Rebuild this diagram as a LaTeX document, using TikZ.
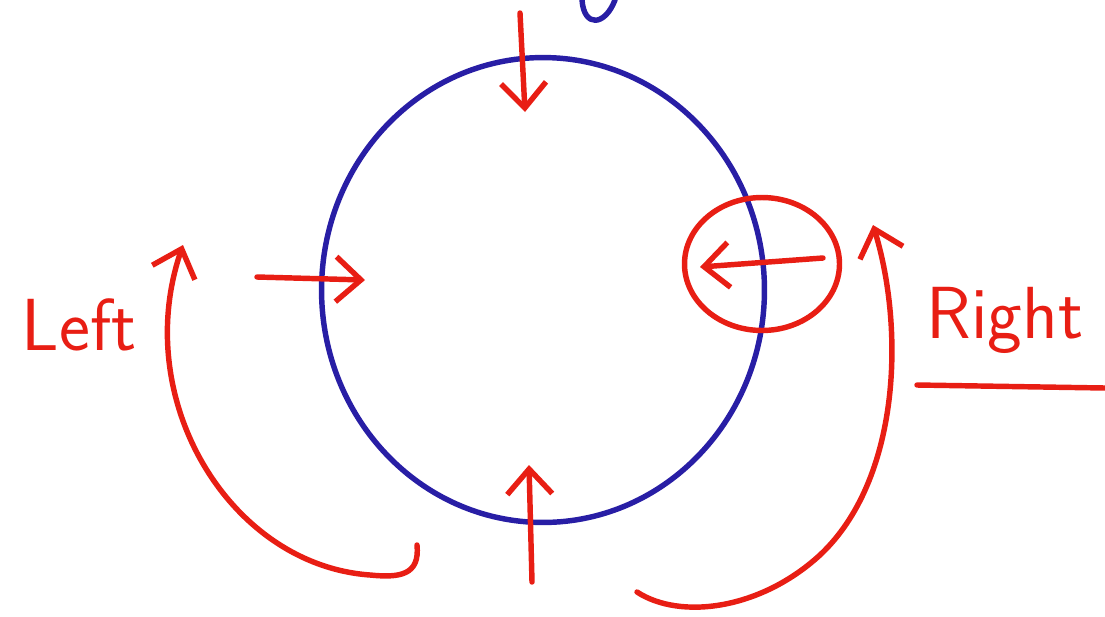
\documentclass[tikz,border=0pt]{standalone}
\usepackage{fontspec}
\usetikzlibrary{arrows.meta, shapes.geometric}
\definecolor{penred}{RGB}{232,30,20}
\definecolor{penblue}{RGB}{40,30,165}

\begin{document}
\begin{tikzpicture}[x=0.02cm, y=-0.02cm,
    pen/.style = {line width=3.1pt, line cap=round, line join=round},
    push/.style = {pen, draw=penred, -{Straight Barb[length=0.5cm, width=0.9cm]}},
    word/.style = {text=penred, font=\sffamily\fontsize{42}{46}\selectfont, inner sep=0pt, anchor=base}
]
\useasboundingbox (0,0) rectangle (1105,616);

% the wheel
\node (wheel) [ellipse, pen, draw=penblue, inner sep=0pt, minimum width=8.86cm, minimum height=9.3cm] at (543,290) {};
\draw [pen, draw=penblue] (582,0) .. controls (584,28) and (605,26) .. (615,0);

% points where the pushes start and end
\coordinate (top_out) at (520,13);
\coordinate (top_in) at (525,112);
\coordinate (left_out) at (257,277);
\coordinate (left_in) at (365,280);
\coordinate (bot_out) at (532,582);
\coordinate (bot_in) at (529,465);
\coordinate (right_out) at (823,258);
\coordinate (right_in) at (700,267);
\coordinate (lsweep_out) at (417,545);
\coordinate (lsweep_in) at (183,245);
\coordinate (rsweep_out) at (637,592);
\coordinate (rsweep_in) at (873,225);

\node (ring) [ellipse, pen, draw=penred, inner sep=0pt, minimum width=3.1cm, minimum height=2.66cm] at (762,264) {};

\draw [push] (top_out) -- (top_in);
\draw [push] (left_out) -- (left_in);
\draw [push] (bot_out) -- (bot_in);
\draw [push] (right_out) -- (right_in);

% turning sweeps
\draw [push] (lsweep_out) .. controls (420,575) and (400,578) .. (370,575)
  .. controls (230,565) and (130,400) .. (lsweep_in);
\draw [push] (rsweep_out) .. controls (680,620) and (760,610) .. (820,555)
  .. controls (900,480) and (905,330) .. (rsweep_in);

\node (left_word) [word] at (79,350) {Left};
\node (right_word) [word] at (1005,338) {Right};
\draw [pen, draw=penred] (917,385) -- (1105,388);

\end{tikzpicture}
\end{document}
